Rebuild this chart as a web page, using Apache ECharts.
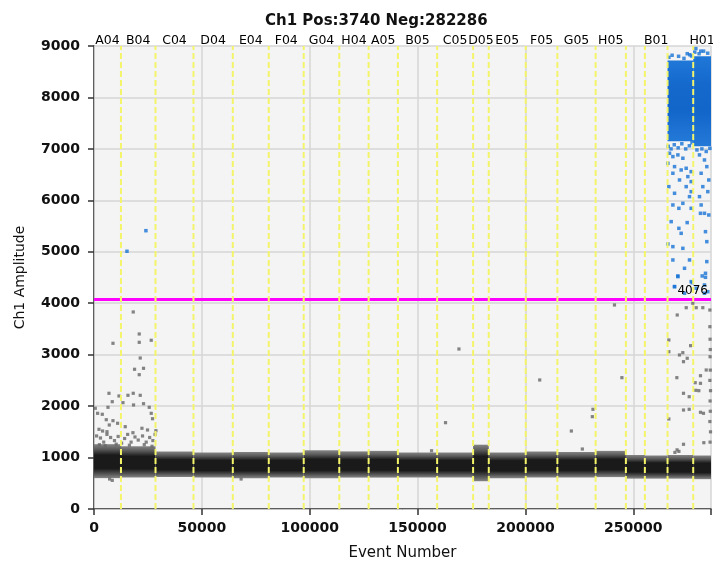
<!DOCTYPE html>
<html>
<head>
<meta charset="utf-8">
<script src="https://cdn.jsdelivr.net/npm/echarts@6/dist/echarts.min.js"></script>
<style>
  html, body { margin: 0; background: #fff; }
  #chart { width: 713px; height: 562px; }
</style>
</head>
<body>
<div id="chart"></div>
<script>
// run summary
const totalEvents = 286026;
const threshold = 4076;
const titleText = 'Ch1 Pos:3740 Neg:282286';

// wells (two narrow wells have hidden labels in the original)
const wellNames = ['A04', 'B04', 'C04', 'D04', 'E04', 'F04', 'G04', 'H04', 'A05', 'B05',
  'C05', 'D05', 'E05', 'F05', 'G05', 'H05', '', 'B01', '', 'H01'];
const wellEdges = [0, 12500, 28520, 46110, 64350, 81020, 97220, 113700, 127310, 140880,
  159070, 175740, 183010, 200140, 214810, 232540, 246570, 255370, 265880, 277780, 286026];

// negative droplet band per well (amplitude range)
const bandLow = [600, 610, 620, 610, 600, 610, 600, 610, 610, 610,
  610, 540, 600, 610, 610, 620, 590, 590, 590, 580];
const bandHigh = [1260, 1220, 1120, 1100, 1110, 1100, 1140, 1120, 1130, 1100,
  1100, 1250, 1100, 1120, 1110, 1130, 1050, 1040, 1050, 1040];

// dense positive clusters [start, end, low, high]
const posClusters = [
  [265880, 277780, 7150, 8720],
  [277780, 286026, 7050, 8800]
];

// negative droplets outside the band [event, amplitude]
const negOutliers = [
  [18800, 2716], [22960, 2735], [20970, 2611], [6940, 2249], [11570, 2197], [15740, 2210],
  [18190, 2249], [21430, 2210], [8470, 2086], [13430, 2067], [18330, 2022], [22960, 2047],
  [6480, 1977], [25600, 1977], [600, 1958], [1670, 1860], [3840, 1841], [26530, 1860],
  [5690, 1736], [8800, 1717], [27130, 1755], [7080, 1633], [10930, 1666], [14490, 1600],
  [2310, 1549], [3980, 1516], [6020, 1503], [18050, 1483], [22220, 1569], [24810, 1536],
  [28700, 1522], [18190, 3830], [20970, 3402], [8800, 3221], [20970, 3240], [26530, 3280],
  [21430, 2935], [7220, 583], [8470, 557], [68200, 583],
  [1200, 1420], [3000, 1380], [4500, 1300], [6000, 1450], [7700, 1390], [9500, 1330],
  [11200, 1410], [12800, 1280], [14200, 1370], [15600, 1450], [17200, 1300], [19000, 1400],
  [20500, 1340], [22500, 1420], [24200, 1300], [25800, 1390], [27300, 1330], [28300, 1450],
  [2500, 1250], [5200, 1230], [10300, 1260], [16400, 1240], [23300, 1250], [26900, 1220],
  [162960, 1678], [169180, 3110], [206620, 2508], [221290, 1516], [226380, 1166],
  [231300, 1938], [231020, 1795], [244720, 2553], [241280, 3966], [156480, 1133],
  [270190, 2553], [273280, 2249], [275920, 2183], [278980, 2307], [281150, 2443],
  [273280, 1924], [275920, 1938], [266480, 1750], [281150, 1880], [282540, 1860],
  [273280, 1258], [269300, 1100], [271150, 1120], [270300, 1150], [282700, 1289],
  [283810, 2702], [273280, 2864], [274540, 3913], [279170, 3913], [282230, 3913],
  [277590, 3999], [270370, 3771], [266480, 3285], [266480, 3058], [272960, 3039],
  [271410, 2994], [275000, 2930], [276560, 3175], [281150, 2591], [278700, 2455],
  [280380, 2300], [285500, 3868], [285500, 3544], [285600, 2960], [285700, 2700],
  [285600, 3300], [285700, 3100], [285500, 2500], [285800, 2300], [285600, 2100],
  [285700, 1900], [285500, 1700], [285800, 1500], [285600, 1300]
];

// positive droplets outside the dense clusters [event, amplitude]
const posPoints = [
  [24070, 5410], [15280, 5010],
  [279000, 8950], [281300, 8900], [277000, 8806], [275000, 8850], [280000, 8750],
  [266500, 8780], [268000, 8820], [271000, 8800], [273500, 8760], [276200, 8830],
  [278500, 8880], [280500, 8850], [282600, 8900], [284500, 8860],
  [266200, 7050], [267500, 7000], [269000, 7080], [270800, 7020], [272500, 7100],
  [274300, 7000], [276000, 7060], [277200, 7120], [279500, 6980], [281800, 7000],
  [283800, 6950], [285500, 7010],
  [266800, 6915], [268350, 6850], [270670, 6883], [272980, 6818], [266030, 6720],
  [269120, 6655], [272200, 6590], [274520, 6623], [276830, 6558], [268350, 6526],
  [275290, 6461], [271430, 6396], [276830, 6364], [266490, 6266], [274520, 6266],
  [276830, 6169], [269120, 6137], [276060, 6072], [268350, 5910], [272980, 5942],
  [271130, 5845], [276830, 5845], [281460, 5910], [283000, 5748], [285000, 5715],
  [281150, 5748], [267570, 5586], [274980, 5567], [271130, 5456], [272200, 5359],
  [266030, 5152], [268350, 5100], [272980, 5067], [283470, 5391], [284080, 5197],
  [268350, 4841], [276060, 4841], [273750, 4679], [270670, 4517], [276830, 4420],
  [284080, 4809], [283470, 4582], [283000, 4355], [269120, 4323], [273750, 4194],
  [279150, 4291], [283000, 4194],
  [280690, 6883], [283000, 6785], [284080, 6655], [281460, 6526], [285000, 6396],
  [282230, 6266], [284540, 6169], [280690, 6072],
  [270650, 4530], [281940, 4530], [283470, 4504], [269120, 4322], [277310, 4400], [284540, 4224]
];

const FONT = 'DejaVu Sans';

const chart = echarts.init(document.getElementById('chart'), null, { renderer: 'canvas' });

const negGradient = new echarts.graphic.LinearGradient(0, 0, 0, 1, [
  { offset: 0, color: '#858585' },
  { offset: 0.15, color: '#5a5a5a' },
  { offset: 0.32, color: '#1a1a1a' },
  { offset: 0.72, color: '#1a1a1a' },
  { offset: 0.86, color: '#4e4e4e' },
  { offset: 1, color: '#858585' }
]);
const posGradient = new echarts.graphic.LinearGradient(0, 0, 0, 1, [
  { offset: 0, color: '#2078d8' },
  { offset: 0.3, color: '#1569cd' },
  { offset: 0.6, color: '#1265c9' },
  { offset: 1, color: '#2379d8' }
]);

function bandItem(fill) {
  return function (params, api) {
    const p0 = api.coord([api.value(0), api.value(3)]);
    const p1 = api.coord([api.value(1), api.value(2)]);
    return {
      type: 'rect',
      shape: { x: p0[0], y: p0[1], width: p1[0] - p0[0], height: p1[1] - p0[1] },
      style: { fill: fill }
    };
  };
}

const plainNumber = value => String(value);

const option = {
  animation: false,
  backgroundColor: '#ffffff',
  title: {
    text: titleText,
    left: 260,
    top: 9,
    textStyle: { fontFamily: FONT, fontSize: 15, fontWeight: 'bold', color: '#111' }
  },
  grid: {
    left: 94, right: 2, top: 46, bottom: 53,
    show: true, backgroundColor: '#f4f4f4', borderWidth: 0,
    outerBoundsMode: 'none'
  },
  xAxis: [
    {
      type: 'value', min: 0, max: totalEvents, interval: 50000,
      name: 'Event Number', nameLocation: 'middle', nameGap: 37,
      nameTextStyle: { fontFamily: FONT, fontSize: 15, color: '#111' },
      axisLine: { show: true, onZero: false, lineStyle: { color: '#333', width: 1.5 } },
      axisTick: { show: true, length: 6, lineStyle: { color: '#333', width: 1.5 } },
      axisLabel: {
        fontFamily: FONT, fontSize: 14, fontWeight: 'bold', color: '#111', margin: 12,
        showMaxLabel: false, formatter: plainNumber
      },
      splitLine: { show: true, lineStyle: { color: '#d6d6d6', width: 1.5 } }
    },
    {
      type: 'value', min: 0, max: totalEvents, interval: 50000, position: 'top',
      axisLine: { show: true, lineStyle: { color: '#c4c4c4', width: 1 } },
      axisTick: { show: true, inside: true, length: 6, lineStyle: { color: '#333', width: 1.5 } },
      axisLabel: { show: false },
      splitLine: { show: false }
    }
  ],
  yAxis: [
    {
      type: 'value', min: 0, max: 9000, interval: 1000,
      name: 'Ch1 Amplitude', nameLocation: 'middle', nameGap: 67,
      nameTextStyle: { fontFamily: FONT, fontSize: 14, color: '#111' },
      axisLine: { show: true, onZero: false, lineStyle: { color: '#333', width: 1.5 } },
      axisTick: { show: true, length: 6, lineStyle: { color: '#333', width: 1.5 } },
      axisLabel: { fontFamily: FONT, fontSize: 14, fontWeight: 'bold', color: '#111', margin: 14, formatter: plainNumber },
      splitLine: { show: true, lineStyle: { color: '#d6d6d6', width: 1.5 } }
    },
    {
      type: 'value', min: 0, max: 9000, interval: 1000, position: 'right',
      axisLine: { show: true, lineStyle: { color: '#c4c4c4', width: 1 } },
      axisTick: { show: true, inside: true, length: 6, lineStyle: { color: '#333', width: 1.5 } },
      axisLabel: { show: false },
      splitLine: { show: false }
    }
  ],
  series: [
    {
      name: 'negative band',
      type: 'custom',
      silent: true,
      z: 1,
      encode: { x: [0, 1], y: [2, 3] },
      data: wellNames.map((n, i) => [wellEdges[i], wellEdges[i + 1], bandLow[i], bandHigh[i]]),
      renderItem: bandItem(negGradient)
    },
    {
      name: 'positive cluster',
      type: 'custom',
      silent: true,
      z: 1,
      encode: { x: [0, 1], y: [2, 3] },
      data: posClusters,
      renderItem: bandItem(posGradient)
    },
    {
      name: 'negative',
      type: 'scatter',
      symbol: 'rect',
      symbolSize: 3.2,
      z: 3,
      itemStyle: { color: '#666666' },
      data: negOutliers
    },
    {
      name: 'positive',
      type: 'scatter',
      symbol: 'rect',
      symbolSize: 3.5,
      z: 3,
      itemStyle: { color: '#1673d6' },
      data: posPoints
    },
    {
      name: 'well boundaries',
      type: 'custom',
      z: 10,
      encode: { x: 0, y: 1 },
      data: wellEdges.slice(1, -1).map(v => [v, 4500]),
      renderItem: function (params, api) {
        const x = api.coord([api.value(0), 0])[0];
        const yBottom = api.coord([0, 0])[1];
        const yTop = api.coord([0, 9000])[1];
        return {
          type: 'line',
          shape: { x1: x, y1: yBottom, x2: x, y2: yTop },
          style: { stroke: '#f4f46a', lineWidth: 2, lineDash: [6, 3] }
        };
      }
    },
    {
      name: 'threshold',
      type: 'line',
      data: [],
      z: 11,
      markLine: {
        silent: true,
        symbol: ['none', 'none'],
        lineStyle: { color: '#ff00ff', type: 'solid', width: 3 },
        label: {
          show: true, position: 'insideEndTop', formatter: '{c}', distance: [3, 2],
          fontFamily: FONT, fontSize: 12, color: '#000'
        },
        data: [{ yAxis: threshold }]
      }
    },
    {
      name: 'well labels',
      type: 'custom',
      silent: true,
      clip: false,
      z: 12,
      encode: { x: 0, y: 1 },
      data: wellNames.map((n, i) => [(wellEdges[i] + wellEdges[i + 1]) / 2, 9000]),
      renderItem: function (params, api) {
        const p = api.coord([api.value(0), api.value(1)]);
        return {
          type: 'text',
          x: p[0],
          y: p[1] + 1,
          style: {
            text: wellNames[params.dataIndex],
            fill: '#000',
            font: '12.5px "DejaVu Sans"',
            textAlign: 'center',
            textVerticalAlign: 'bottom'
          }
        };
      }
    }
  ]
};

chart.setOption(option);
</script>
</body>
</html>
